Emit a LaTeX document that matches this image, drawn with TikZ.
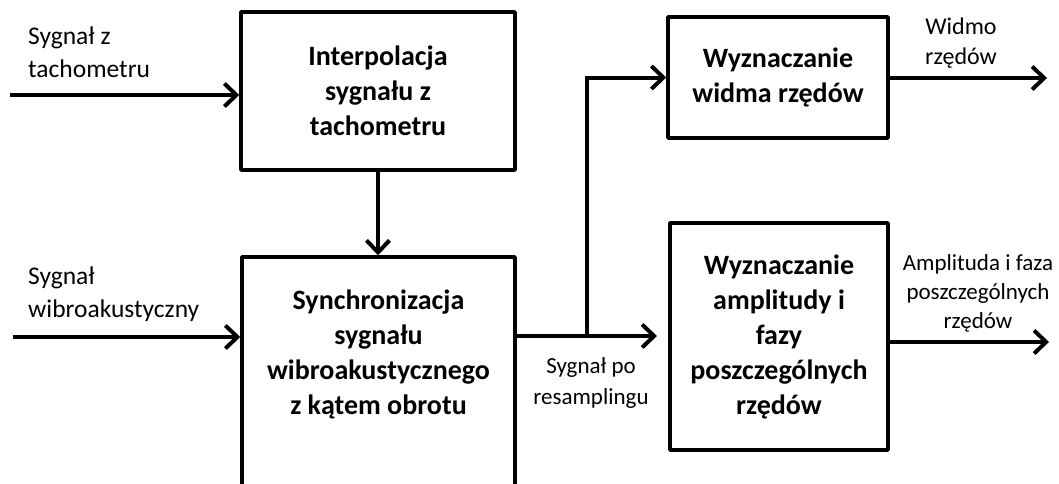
\documentclass[tikz,border=0pt]{standalone}
\usepackage{fontspec}
\setmainfont{Carlito}
\usetikzlibrary{arrows.meta,positioning}

\begin{document}
\begin{tikzpicture}[x=1pt, y=-1pt,
    block/.style={draw, line width=3.5pt, line join=round, inner sep=0pt,
                  align=center, font=\fontsize{28}{35}\selectfont\bfseries},
    blocktext/.style={inner sep=0pt, align=center,
                      font=\fontsize{28}{35}\selectfont\bfseries},
    sigtext/.style={inner sep=0pt, font=\fontsize{25.5}{33}\selectfont},
    smalltext/.style={inner sep=0pt, align=center, font=\fontsize{23}{29}\selectfont},
    flow/.style={line width=4pt, -{Straight Barb[length=12pt, width=23pt]}}]
    \useasboundingbox (0,0) rectangle (1059,483);

    \node[block, minimum width=274pt, minimum height=158pt] (interp) at (378,91)
        {Interpolacja\\sygnału z\\tachometru};
    \node[block, minimum width=273pt, minimum height=303pt] (sync) at (378.5,408.5) {};
    \node[blocktext, below=34pt of sync.north] (synctext)
        {Synchronizacja\\sygnału\\wibroakustycznego\\z kątem obrotu};
    \node[block, minimum width=220pt, minimum height=121pt] (widma) at (778,77.5)
        {Wyznaczanie\\widma rzędów};
    \node[block, minimum width=218pt, minimum height=227pt] (ampl) at (779,336.5)
        {Wyznaczanie\\amplitudy i\\fazy\\poszczególnych\\rzędów};

    \coordinate (tacho) at (10,95);
    \coordinate (vib) at (13,337);
    \coordinate (split) at (587,336);
    \coordinate (resend) at (657,336);
    \coordinate (widmoend) at (1047,78);
    \coordinate (ampend) at (1049,342);

    \draw[flow] (tacho) -- (tacho -| interp.west);
    \draw[flow] (vib) -- (vib -| sync.west);
    \draw[flow] (interp.south) -- (interp.south |- sync.north);
    \draw[flow] (sync.east |- split) -- (resend);
    \draw[flow] (split) |- (widma.west);
    \draw[flow] (widmoend -| widma.east) -- (widmoend);
    \draw[flow] (ampend -| ampl.east) -- (ampend);

    \node[sigtext, align=left, anchor=west] (tachotext) at (28,52) {Sygnał z\\tachometru};
    \node[sigtext, align=left, anchor=west] (vibtext) at (28,294) {Sygnał\\wibroakustyczny};
    \node[smalltext, font=\fontsize{23}{31}\selectfont] (restext) at (591,383)
        {Sygnał po\\resamplingu};
    \node[smalltext, font=\fontsize{24}{30}\selectfont] (widmotext) at (961,43)
        {Widmo\\rzędów};
    \node[smalltext] (amptext) at (978,293) {Amplituda i faza\\poszczególnych\\rzędów};
\end{tikzpicture}
\end{document}
